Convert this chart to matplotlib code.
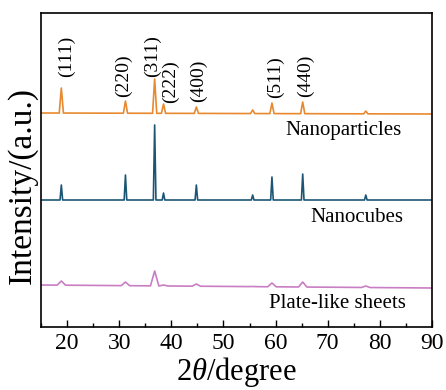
import matplotlib
matplotlib.use("Agg")
import matplotlib.pyplot as plt
from matplotlib.ticker import MultipleLocator

plt.rcParams['font.family'] = ['Liberation Serif', 'DejaVu Serif']
plt.rcParams['mathtext.fontset'] = 'custom'
plt.rcParams['mathtext.rm'] = 'Liberation Serif'
plt.rcParams['mathtext.it'] = 'Liberation Serif:italic'

# ---- data (2theta in degrees, intensity in arbitrary units) ----
peak_pos = [18.9, 31.2, 36.8, 38.5, 44.8, 55.6, 59.3, 65.2, 77.3]

np_base = [214, 213]          # left, right baseline
np_peaks = [239, 226, 248, 223, 220, 217, 224, 225, 216]
np_width = 0.4

nc_base = [127, 127]
nc_peaks = [142, 152, 202, 134, 142, 132, 150, 153, 132]
nc_width = 0.25

ps_base = [42, 39]
ps_peaks = [46, 45, 56, 42, 43, 40.5, 44, 45, 41]
ps_width = 0.8

hkl_labels = ['(111)', '(220)', '(311)', '(222)', '(400)', '(511)', '(440)']
hkl_x = [19.8, 30.8, 36.3, 39.8, 45.2, 60.0, 65.8]
hkl_y = [250, 230, 250, 224, 225, 229, 230]

names = ['Nanoparticles', 'Nanocubes', 'Plate-like sheets']
name_x = [84.2, 84.6, 85.0]
name_y = [197, 110, 24]
colors = ['#E8892F', '#1D5675', '#C97DC3']


def trace(base, peaks, width):
    xs = [15.0]
    ys = [base[0]]
    def b(x):
        return base[0] + (base[1] - base[0]) * (x - 15) / 75
    for p, h in zip(peak_pos, peaks):
        xs += [p - width, p, p + width]
        ys += [b(p - width), h, b(p + width)]
    xs.append(90.0)
    ys.append(base[1])
    return xs, ys


fig = plt.figure(figsize=(4.46, 3.9), dpi=100)
ax = fig.add_axes([41/446, 1-327/390, 391/446, 314/390])

for (base, peaks, w), c in zip([(np_base, np_peaks, np_width),
                                (nc_base, nc_peaks, nc_width),
                                (ps_base, ps_peaks, ps_width)], colors):
    xs, ys = trace(base, peaks, w)
    ax.plot(xs, ys, color=c, lw=1.2)

for lab, x, y in zip(hkl_labels, hkl_x, hkl_y):
    ax.text(x, y, lab, rotation=90, ha='center', va='bottom', fontsize=14)

for n, x, y in zip(names, name_x, name_y):
    ax.text(x, y, n, ha='right', va='center', fontsize=15)

ax.set_xlim(15, 90)
ax.set_ylim(0, 314)
ax.xaxis.set_major_locator(MultipleLocator(10))
ax.xaxis.set_minor_locator(MultipleLocator(5))
ax.set_yticks([])
ax.tick_params(axis='x', which='major', direction='in', length=5, width=1,
               labelsize=17, pad=4, top=False)
ax.tick_params(axis='x', which='minor', direction='in', length=3, width=1, top=False)
for s in ax.spines.values():
    s.set_linewidth(1.2)

ax.set_xlabel(r'2$\it{\theta}$/degree', fontsize=22, labelpad=1)
ax.set_ylabel('Intensity/(a.u.)', fontsize=24, labelpad=4)
ax.yaxis.set_label_coords(-0.008, 0.45)

fig.savefig('out.png', dpi=100)
